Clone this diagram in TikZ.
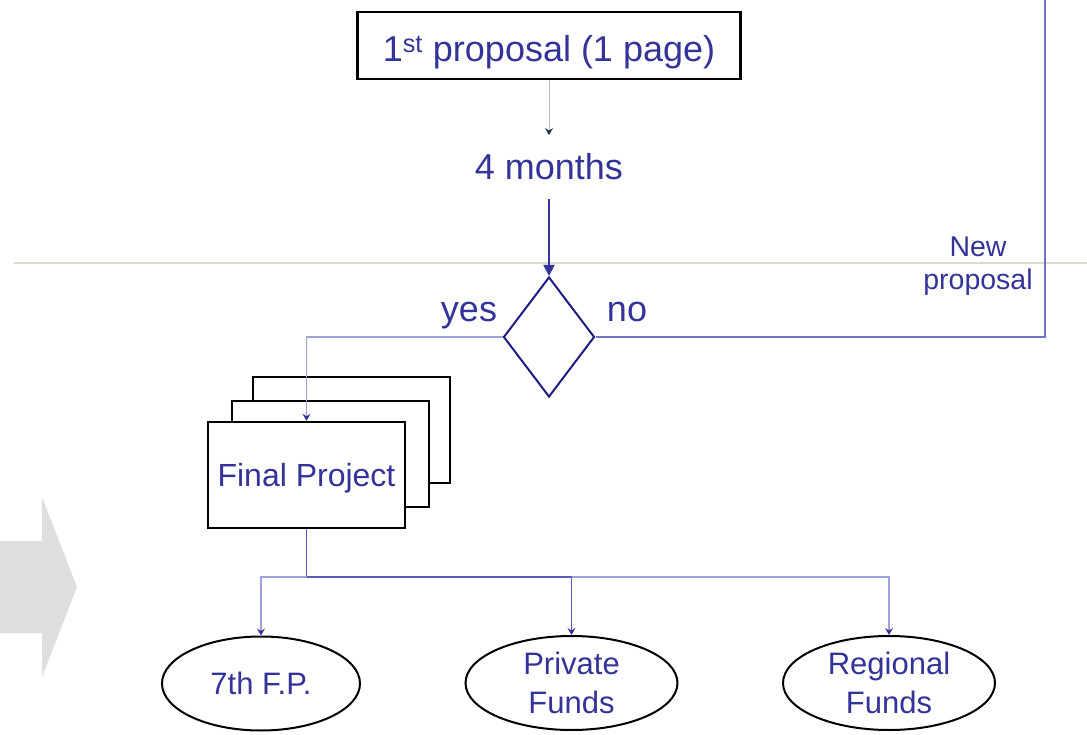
\documentclass[tikz,border=0pt]{standalone}
\usepackage{fontspec}
\setmainfont{Liberation Sans}
\usetikzlibrary{arrows.meta,shapes.geometric,calc}

\definecolor{txtblue}{HTML}{333399}
\definecolor{navy}{HTML}{1C1C84}
\definecolor{linkblue}{HTML}{5A5AB8}
\definecolor{paleblue}{HTML}{A0A0DC}
\definecolor{greyline}{HTML}{B4BAC6}
\definecolor{tipdark}{HTML}{1F3550}
\definecolor{rulecol}{HTML}{DDD6CC}
\definecolor{arrowgrey}{HTML}{DEDEDE}

\begin{document}
\begin{tikzpicture}[x=1pt,y=-1pt,>={Stealth[length=7pt,width=8pt,inset=2.5pt,color=txtblue]},
	txt/.style={text=txtblue,font=\fontsize{36}{42}\selectfont},
	page/.style={draw=black,line width=2.5pt,fill=white,minimum width=197pt,minimum height=106pt,inner sep=0pt},
	fund/.style={ellipse,draw=black,line width=2pt,fill=white,minimum height=94pt,inner sep=0pt,
		text=txtblue,align=center,font=\fontsize{31}{39}\selectfont}]

\useasboundingbox (0,0) rectangle (1087,735);

\fill[arrowgrey] (0,541)--(42,541)--(42,497)--(77,587)--(42,677)--(42,633)--(0,633)--cycle;
\draw[rulecol,line width=1.2pt] (14,263)--(1087,263);

\node[draw=black,line width=2.5pt,minimum width=383pt,minimum height=67pt,inner sep=0pt,
	txt,text height=40pt,text depth=7.6pt] (prop) at (549,45.5) {1\textsuperscript{st} proposal (1 page)};
\node[txt,inner ysep=18.5pt] (mon) at (549,167) {4 months};
\node[diamond,draw=navy,line width=2pt,minimum width=91pt,minimum height=120pt,inner sep=0pt] (dec) at (549,337) {};

\node[txt,anchor=base] (yes) at (469,322) {yes};
\node[txt,anchor=base] (no) at (627,322) {no};
\node[text=txtblue,font=\fontsize{28.5}{33}\selectfont,align=center] (newp) at (978,266) {New\\proposal};

\draw[greyline,line width=1pt,-{Stealth[length=7pt,width=8pt,inset=2.5pt,color=tipdark]}] (prop)--(mon);
\draw[txtblue,line width=1.8pt,-{Triangle[length=11pt,width=11pt]}] (mon)--(dec);

\foreach \dx/\dy/\n in {45/45/c,24/21/b}{
	\node[page] (fp\n) at (306.5+\dx,475-\dy) {};
}
\node[page,txt,font=\fontsize{32}{38}\selectfont,text depth=0pt] (fp) at (306.5,475) {Final Project};

\coordinate (back) at (1045,-5);
\draw[linkblue!85,line width=1.2pt] (dec.east) -| (back);
\draw[->,paleblue,line width=1.2pt] (dec.west) -| (fp.north);

\node[fund,minimum width=198pt] (f1) at (261,683.5) {7th F.P.};
\node[fund,minimum width=212pt] (f2) at (571.5,683) {Private\\Funds};
\node[fund,minimum width=212pt] (f3) at (889,683) {Regional\\Funds};

\coordinate (split) at (306.5,577);
\draw[linkblue,line width=1.5pt] (fp.south)--(split);
\draw[->,paleblue,line width=1.2pt] (split) -| (f1);
\draw[->,paleblue,line width=1.2pt] (split) -| (f3);
\draw[->,linkblue,line width=1.2pt] (split) -| (f2);

\end{tikzpicture}
\end{document}
